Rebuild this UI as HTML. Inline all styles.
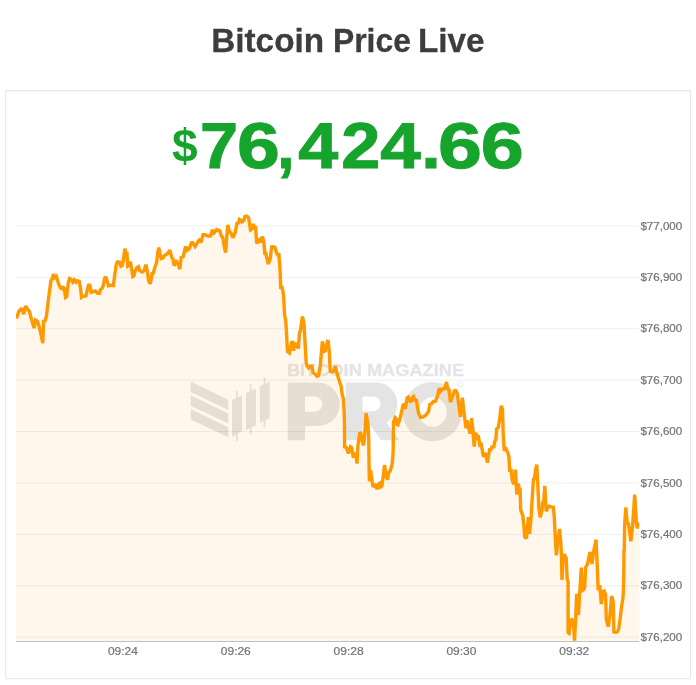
<!DOCTYPE html>
<html><head><meta charset="utf-8">
<style>
html,body{margin:0;padding:0;background:#fff;}
body{width:696px;height:685px;position:relative;overflow:hidden;font-family:"Liberation Sans",sans-serif;}
svg{position:absolute;left:0;top:0;will-change:transform;}
text{font-family:"Liberation Sans",sans-serif;}
</style></head><body>
<svg width="696" height="685" viewBox="0 0 696 685">
<rect x="5.7" y="90.7" width="684.7" height="587.95" fill="#fff" stroke="#e4e7e7" stroke-width="1"/>
<!-- title -->
<g font-size="34.1" font-weight="bold" fill="#3d3d3d" stroke="#3d3d3d" stroke-width="0.3">
<text x="211.2" y="52.1" textLength="112.9" lengthAdjust="spacingAndGlyphs">Bitcoin</text>
<text x="332.9" y="52.1" textLength="78" lengthAdjust="spacingAndGlyphs">Price</text>
<text x="418.0" y="52.1" textLength="66.6" lengthAdjust="spacingAndGlyphs">Live</text>
</g>
<!-- price -->
<text transform="translate(171.97,161.5) scale(0.994,1)" font-size="46.5" font-weight="bold" fill="#16a42c">$</text>
<text transform="translate(199.88,168.4) scale(1.057,1)" font-size="64.8" font-weight="bold" fill="#16a42c" stroke="#16a42c" stroke-width="1.0" text-rendering="geometricPrecision">7</text>
<text transform="translate(236.96,168.4) scale(1.188,1)" font-size="64.8" font-weight="bold" fill="#16a42c" stroke="#16a42c" stroke-width="1.0" text-rendering="geometricPrecision">6</text>
<text transform="translate(277.34,168.4) scale(0.958,1)" font-size="64.8" font-weight="bold" fill="#16a42c" stroke="#16a42c" stroke-width="1.0" text-rendering="geometricPrecision">,</text>
<text transform="translate(298.35,168.4) scale(1.109,1)" font-size="64.8" font-weight="bold" fill="#16a42c" stroke="#16a42c" stroke-width="1.0" text-rendering="geometricPrecision">4</text>
<text transform="translate(341.30,168.4) scale(1.084,1)" font-size="64.8" font-weight="bold" fill="#16a42c" stroke="#16a42c" stroke-width="1.0" text-rendering="geometricPrecision">2</text>
<text transform="translate(380.15,168.4) scale(1.123,1)" font-size="64.8" font-weight="bold" fill="#16a42c" stroke="#16a42c" stroke-width="1.0" text-rendering="geometricPrecision">4</text>
<text transform="translate(421.28,168.4) scale(1.085,1)" font-size="64.8" font-weight="bold" fill="#16a42c" stroke="#16a42c" stroke-width="1.0" text-rendering="geometricPrecision">.</text>
<text transform="translate(438.00,168.4) scale(1.219,1)" font-size="64.8" font-weight="bold" fill="#16a42c" stroke="#16a42c" stroke-width="1.0" text-rendering="geometricPrecision">6</text>
<text transform="translate(480.75,168.4) scale(1.192,1)" font-size="64.8" font-weight="bold" fill="#16a42c" stroke="#16a42c" stroke-width="1.0" text-rendering="geometricPrecision">6</text>
<!-- grid -->
<rect x="16" y="225.44" width="623.3" height="1" fill="#efefef"/>
<rect x="16" y="276.84" width="623.3" height="1" fill="#efefef"/>
<rect x="16" y="328.24" width="623.3" height="1" fill="#efefef"/>
<rect x="16" y="379.64" width="623.3" height="1" fill="#efefef"/>
<rect x="16" y="431.04" width="623.3" height="1" fill="#efefef"/>
<rect x="16" y="482.44" width="623.3" height="1" fill="#efefef"/>
<rect x="16" y="533.84" width="623.3" height="1" fill="#efefef"/>
<rect x="16" y="585.24" width="623.3" height="1" fill="#efefef"/>
<rect x="16" y="636.64" width="623.3" height="1" fill="#efefef"/>
<!-- watermark -->
<g opacity="0.1" fill="#000" stroke="none">
<polygon points="190.7,381.6 228.3,399.7 228.3,410 190.7,391.9"/>
<polygon points="190.7,395.3 228.3,413.4 228.3,423.4 190.7,405.7"/>
<polygon points="190.7,409.1 228.3,427.2 228.3,437.2 190.7,419.5"/>
<polygon points="232.1,400 242.1,395.3 242.1,430.7 232.1,437.2"/>
<rect x="236" y="391" width="1.8" height="50"/>
<polygon points="246,393.1 255.9,388.4 255.9,425.2 246,429.8"/>
<rect x="249.8" y="384.1" width="1.8" height="50.4"/>
<polygon points="259.8,386.2 269.7,381.6 269.7,418.3 259.8,422.9"/>
<rect x="263.6" y="377.2" width="1.8" height="50.4"/>
<text x="286.9" y="376.3" font-size="17.0" font-weight="bold" stroke="#000" stroke-width="0.5" textLength="177.2" lengthAdjust="spacingAndGlyphs">BITCOIN MAGAZINE</text>
<!-- P -->
<path fill-rule="evenodd" d="M287.7,382.6 H318.1 A21.7,21.7 0 0 1 318.1,426 H305 V440.3 H287.7 Z M305,396.4 H314.75 A7.65,7.65 0 0 1 314.75,411.7 H305 Z"/>
<!-- R -->
<path fill-rule="evenodd" d="M345.7,382.6 H376 A21.3,21.3 0 0 1 386.6,422.4 L399.3,440.3 H380.9 L370.3,425.2 H362.5 V440.3 H345.7 Z M362.5,396.4 H373 A7.4,7.4 0 0 1 373,411.2 H362.5 Z"/>
<!-- O -->
<path fill-rule="evenodd" d="M402.6,411.65 A29.7,29.7 0 1 1 462,411.65 A29.7,29.7 0 1 1 402.6,411.65 Z M419,412 A13.8,14.8 0 1 0 446.6,412 A13.8,14.8 0 1 0 419,412 Z"/>
<circle cx="460.5" cy="384.4" r="2.7" fill="none" stroke="#000" stroke-width="0.9"/>
</g>
<!-- area fill -->
<path d="M16,641.5 L16,318.6 L16.6,318.6 L18.8,311.3 L20.9,309.1 L22.4,309.9 L23.6,314.2 L24.6,308.4 L26.1,306.2 L27.8,309.9 L29.4,311.3 L31.2,318.6 L34.1,328.1 L35.5,320.1 L37.7,321.5 L39.9,329.6 L40.7,333.2 L42.8,343.1 L43.6,320.1 L45.0,321.5 L46.5,315.7 L48.2,301.1 L50.9,280.7 L52.3,278.5 L53.4,274.1 L54.5,277.7 L56.4,276.3 L58.2,282.8 L60.4,288.0 L61.8,288.7 L62.6,286.5 L64.3,288.7 L65.5,297.4 L66.6,296.7 L68.4,282.1 L69.6,278.5 L71.0,279.2 L72.8,282.1 L74.2,279.9 L76.0,282.1 L77.4,280.7 L79.3,281.4 L80.5,288.0 L81.5,297.4 L83.0,296.4 L85.9,296.0 L87.4,289.4 L88.8,284.3 L90.0,285.8 L91.2,292.3 L93.2,291.6 L95.4,290.9 L97.3,293.1 L99.3,293.4 L100.5,289.4 L102.3,288.0 L103.4,285.0 L104.6,278.5 L105.8,276.6 L107.2,281.5 L108.5,285.9 L110.9,285.2 L113.4,285.6 L114.6,275.7 L116.4,264.0 L117.5,261.8 L119.4,262.1 L120.9,266.2 L122.2,265.5 L123.4,259.6 L124.9,248.7 L126.3,253.8 L127.0,253.8 L127.7,266.2 L128.9,265.5 L130.4,261.6 L131.8,269.9 L132.8,276.4 L133.9,275.7 L135.0,271.3 L136.8,267.7 L138.5,266.6 L139.7,270.6 L142.0,272.0 L144.2,270.6 L145.8,264.7 L147.4,271.3 L148.6,280.8 L150.1,283.7 L151.1,280.1 L152.1,273.5 L153.3,273.1 L154.7,267.7 L156.6,262.6 L157.8,252.3 L158.8,247.7 L160.1,253.8 L161.3,258.5 L163.1,257.9 L164.5,255.3 L166.4,254.5 L167.9,253.1 L169.8,250.1 L171.8,257.4 L173.0,258.9 L174.2,265.8 L176.2,260.4 L178.1,264.0 L179.8,269.1 L181.2,257.4 L183.2,256.7 L185.6,246.5 L187.3,250.1 L189.3,248.7 L191.9,241.8 L195.1,246.5 L197.3,242.6 L199.1,240.1 L201.1,242.3 L203.0,234.7 L205.2,234.7 L208.4,236.2 L210.8,235.8 L212.2,229.9 L214.0,232.8 L216.6,229.6 L219.8,230.9 L221.6,236.5 L222.7,237.2 L224.2,246.0 L225.6,252.6 L226.8,236.5 L227.9,224.8 L229.3,231.4 L230.8,232.8 L232.9,237.7 L235.1,232.8 L237.0,223.4 L238.4,223.1 L239.5,219.4 L241.0,220.4 L242.0,221.9 L243.9,220.4 L244.9,216.4 L246.8,216.1 L248.6,217.8 L249.7,224.8 L250.5,229.9 L251.6,229.2 L253.3,224.1 L254.6,227.7 L255.7,227.7 L256.6,243.1 L257.8,242.3 L259.2,240.1 L260.7,242.3 L262.4,236.5 L263.9,242.3 L264.8,253.3 L265.8,253.3 L268.3,264.0 L270.2,259.1 L271.6,247.0 L273.1,246.7 L275.0,247.4 L276.5,252.6 L277.5,254.7 L278.9,254.7 L280.0,268.6 L280.7,287.4 L282.1,287.4 L283.6,295.5 L284.6,315.0 L285.8,320.9 L286.8,338.4 L287.5,351.5 L289.4,353.0 L290.4,348.6 L291.9,341.3 L292.9,342.8 L293.6,350.8 L294.8,343.5 L296.3,344.2 L298.3,348.5 L299.5,332.6 L300.4,331.1 L302.4,316.5 L304.0,323.8 L305.0,341.3 L306.2,363.2 L307.2,366.1 L308.7,368.0 L310.1,366.1 L311.9,366.1 L313.1,372.7 L315.3,374.2 L317.0,376.4 L318.5,375.6 L320.1,367.6 L321.1,355.9 L322.4,341.3 L323.7,351.5 L325.2,350.8 L326.6,344.2 L328.0,340.0 L329.4,353.0 L330.2,371.3 L332.0,372.0 L333.5,371.2 L335.4,366.2 L336.9,372.8 L339.0,380.1 L341.2,386.7 L342.2,394.7 L343.4,398.4 L344.1,410.1 L344.5,424.2 L344.6,446.8 L346.4,447.6 L348.4,453.4 L350.4,446.8 L351.5,447.6 L353.4,457.8 L355.1,452.7 L356.3,456.3 L357.0,463.6 L358.0,444.6 L359.9,432.2 L360.9,433.7 L362.1,440.3 L363.3,445.4 L364.3,440.3 L366.1,413.2 L368.0,424.2 L368.7,438.8 L369.1,468.0 L369.4,481.1 L370.6,470.2 L372.3,482.6 L373.1,487.0 L375.3,484.1 L377.0,489.2 L378.6,484.1 L379.6,483.3 L380.8,487.0 L381.8,486.2 L382.8,479.7 L384.5,465.1 L386.2,476.0 L387.7,479.7 L388.4,473.1 L390.1,470.9 L392.0,465.1 L393.1,453.4 L393.5,422.0 L395.0,417.6 L396.0,418.4 L396.9,424.2 L397.9,424.9 L400.1,418.4 L401.5,412.5 L403.0,405.2 L403.9,403.8 L405.3,408.9 L407.1,397.9 L408.1,397.2 L409.3,400.1 L410.9,402.3 L412.5,397.2 L413.5,396.5 L414.7,400.1 L416.4,400.1 L417.6,408.1 L418.8,414.0 L420.5,417.3 L422.9,417.0 L425.8,415.3 L428.5,411.6 L429.9,404.3 L431.4,403.9 L433.4,401.4 L435.3,401.4 L437.5,396.3 L439.2,388.2 L440.7,391.2 L442.6,389.0 L444.8,388.7 L446.5,382.0 L447.7,388.2 L448.9,389.7 L450.5,402.1 L452.8,395.5 L455.1,389.5 L457.2,393.4 L458.7,404.3 L460.4,416.7 L462.4,397.7 L463.8,410.9 L466.0,428.4 L467.0,420.4 L468.2,426.2 L470.1,433.5 L471.6,418.2 L472.8,428.4 L474.2,446.6 L475.2,433.5 L476.2,434.2 L476.6,440.1 L478.2,435.0 L479.9,445.2 L481.3,444.5 L482.8,453.2 L483.5,456.9 L485.0,453.2 L486.0,454.7 L487.4,462.7 L488.6,454.7 L489.6,449.6 L490.8,449.6 L492.3,445.9 L493.7,448.1 L494.7,441.5 L495.9,439.3 L496.6,429.1 L498.1,427.7 L499.6,419.6 L501.2,405.8 L502.5,409.4 L503.2,432.8 L504.3,451.0 L505.7,447.4 L506.9,451.0 L507.8,452.2 L509.0,457.3 L509.7,470.4 L511.2,470.4 L512.2,479.9 L513.9,484.3 L515.5,469.7 L516.8,494.5 L517.7,484.3 L518.6,485.0 L519.2,489.4 L520.1,489.4 L520.7,509.9 L522.8,515.7 L523.9,525.9 L524.7,536.9 L526.5,538.3 L527.2,529.6 L528.4,517.2 L529.6,533.9 L531.2,515.7 L532.3,496.7 L533.4,479.2 L534.5,478.5 L535.5,470.4 L536.8,464.6 L537.9,486.5 L538.9,508.4 L540.2,517.2 L541.8,511.3 L542.8,502.6 L543.7,502.6 L544.8,485.8 L546.2,511.3 L547.7,507.7 L549.1,506.2 L551.3,506.9 L553.3,507.2 L554.3,517.5 L555.4,539.4 L556.4,555.4 L557.6,542.0 L559.6,529.0 L560.9,543.8 L561.4,555.2 L562.0,580.0 L563.2,555.2 L564.7,555.2 L566.2,558.1 L567.2,579.3 L568.1,581.5 L568.1,632.6 L569.1,633.3 L571.2,618.7 L573.5,622.4 L574.5,640.6 L575.7,618.0 L576.6,593.9 L578.5,615.1 L579.7,593.2 L581.3,567.6 L582.4,590.3 L583.7,589.5 L584.7,587.3 L585.6,567.6 L587.3,564.7 L590.0,552.0 L591.9,564.0 L593.5,552.3 L596.1,539.7 L597.3,566.9 L598.2,590.3 L599.8,585.1 L601.3,604.1 L602.7,591.7 L604.1,591.0 L605.6,594.6 L606.3,619.5 L608.3,626.8 L610.0,615.1 L611.6,596.1 L613.3,601.9 L613.9,631.9 L615.8,632.3 L617.3,631.9 L618.7,628.9 L620.2,618.0 L621.6,606.3 L623.1,596.8 L623.8,574.2 L624.0,550.6 L624.3,550.4 L624.6,525.9 L625.8,507.5 L627.2,523.3 L628.5,523.8 L630.9,541.2 L632.6,525.9 L634.7,494.7 L636.4,522.8 L637.4,528.4 L638.8,522.3 L639.3,522.3 L639.3,641.5 Z" fill="#ff9900" fill-opacity="0.08"/>
<!-- axis line -->
<rect x="16" y="641" width="623.3" height="1" fill="#c4c0bc"/>
<!-- line -->
<clipPath id="pc"><rect x="16" y="200" width="623.3" height="445"/></clipPath>
<filter id="bl" x="-2%" y="-2%" width="104%" height="104%"><feGaussianBlur stdDeviation="0.35"/></filter>
<g clip-path="url(#pc)"><polyline filter="url(#bl)" points="16.6,318.6 18.8,311.3 20.9,309.1 22.4,309.9 23.6,314.2 24.6,308.4 26.1,306.2 27.8,309.9 29.4,311.3 31.2,318.6 34.1,328.1 35.5,320.1 37.7,321.5 39.9,329.6 40.7,333.2 42.8,343.1 43.6,320.1 45.0,321.5 46.5,315.7 48.2,301.1 50.9,280.7 52.3,278.5 53.4,274.1 54.5,277.7 56.4,276.3 58.2,282.8 60.4,288.0 61.8,288.7 62.6,286.5 64.3,288.7 65.5,297.4 66.6,296.7 68.4,282.1 69.6,278.5 71.0,279.2 72.8,282.1 74.2,279.9 76.0,282.1 77.4,280.7 79.3,281.4 80.5,288.0 81.5,297.4 83.0,296.4 85.9,296.0 87.4,289.4 88.8,284.3 90.0,285.8 91.2,292.3 93.2,291.6 95.4,290.9 97.3,293.1 99.3,293.4 100.5,289.4 102.3,288.0 103.4,285.0 104.6,278.5 105.8,276.6 107.2,281.5 108.5,285.9 110.9,285.2 113.4,285.6 114.6,275.7 116.4,264.0 117.5,261.8 119.4,262.1 120.9,266.2 122.2,265.5 123.4,259.6 124.9,248.7 126.3,253.8 127.0,253.8 127.7,266.2 128.9,265.5 130.4,261.6 131.8,269.9 132.8,276.4 133.9,275.7 135.0,271.3 136.8,267.7 138.5,266.6 139.7,270.6 142.0,272.0 144.2,270.6 145.8,264.7 147.4,271.3 148.6,280.8 150.1,283.7 151.1,280.1 152.1,273.5 153.3,273.1 154.7,267.7 156.6,262.6 157.8,252.3 158.8,247.7 160.1,253.8 161.3,258.5 163.1,257.9 164.5,255.3 166.4,254.5 167.9,253.1 169.8,250.1 171.8,257.4 173.0,258.9 174.2,265.8 176.2,260.4 178.1,264.0 179.8,269.1 181.2,257.4 183.2,256.7 185.6,246.5 187.3,250.1 189.3,248.7 191.9,241.8 195.1,246.5 197.3,242.6 199.1,240.1 201.1,242.3 203.0,234.7 205.2,234.7 208.4,236.2 210.8,235.8 212.2,229.9 214.0,232.8 216.6,229.6 219.8,230.9 221.6,236.5 222.7,237.2 224.2,246.0 225.6,252.6 226.8,236.5 227.9,224.8 229.3,231.4 230.8,232.8 232.9,237.7 235.1,232.8 237.0,223.4 238.4,223.1 239.5,219.4 241.0,220.4 242.0,221.9 243.9,220.4 244.9,216.4 246.8,216.1 248.6,217.8 249.7,224.8 250.5,229.9 251.6,229.2 253.3,224.1 254.6,227.7 255.7,227.7 256.6,243.1 257.8,242.3 259.2,240.1 260.7,242.3 262.4,236.5 263.9,242.3 264.8,253.3 265.8,253.3 268.3,264.0 270.2,259.1 271.6,247.0 273.1,246.7 275.0,247.4 276.5,252.6 277.5,254.7 278.9,254.7 280.0,268.6 280.7,287.4 282.1,287.4 283.6,295.5 284.6,315.0 285.8,320.9 286.8,338.4 287.5,351.5 289.4,353.0 290.4,348.6 291.9,341.3 292.9,342.8 293.6,350.8 294.8,343.5 296.3,344.2 298.3,348.5 299.5,332.6 300.4,331.1 302.4,316.5 304.0,323.8 305.0,341.3 306.2,363.2 307.2,366.1 308.7,368.0 310.1,366.1 311.9,366.1 313.1,372.7 315.3,374.2 317.0,376.4 318.5,375.6 320.1,367.6 321.1,355.9 322.4,341.3 323.7,351.5 325.2,350.8 326.6,344.2 328.0,340.0 329.4,353.0 330.2,371.3 332.0,372.0 333.5,371.2 335.4,366.2 336.9,372.8 339.0,380.1 341.2,386.7 342.2,394.7 343.4,398.4 344.1,410.1 344.5,424.2 344.6,446.8 346.4,447.6 348.4,453.4 350.4,446.8 351.5,447.6 353.4,457.8 355.1,452.7 356.3,456.3 357.0,463.6 358.0,444.6 359.9,432.2 360.9,433.7 362.1,440.3 363.3,445.4 364.3,440.3 366.1,413.2 368.0,424.2 368.7,438.8 369.1,468.0 369.4,481.1 370.6,470.2 372.3,482.6 373.1,487.0 375.3,484.1 377.0,489.2 378.6,484.1 379.6,483.3 380.8,487.0 381.8,486.2 382.8,479.7 384.5,465.1 386.2,476.0 387.7,479.7 388.4,473.1 390.1,470.9 392.0,465.1 393.1,453.4 393.5,422.0 395.0,417.6 396.0,418.4 396.9,424.2 397.9,424.9 400.1,418.4 401.5,412.5 403.0,405.2 403.9,403.8 405.3,408.9 407.1,397.9 408.1,397.2 409.3,400.1 410.9,402.3 412.5,397.2 413.5,396.5 414.7,400.1 416.4,400.1 417.6,408.1 418.8,414.0 420.5,417.3 422.9,417.0 425.8,415.3 428.5,411.6 429.9,404.3 431.4,403.9 433.4,401.4 435.3,401.4 437.5,396.3 439.2,388.2 440.7,391.2 442.6,389.0 444.8,388.7 446.5,382.0 447.7,388.2 448.9,389.7 450.5,402.1 452.8,395.5 455.1,389.5 457.2,393.4 458.7,404.3 460.4,416.7 462.4,397.7 463.8,410.9 466.0,428.4 467.0,420.4 468.2,426.2 470.1,433.5 471.6,418.2 472.8,428.4 474.2,446.6 475.2,433.5 476.2,434.2 476.6,440.1 478.2,435.0 479.9,445.2 481.3,444.5 482.8,453.2 483.5,456.9 485.0,453.2 486.0,454.7 487.4,462.7 488.6,454.7 489.6,449.6 490.8,449.6 492.3,445.9 493.7,448.1 494.7,441.5 495.9,439.3 496.6,429.1 498.1,427.7 499.6,419.6 501.2,405.8 502.5,409.4 503.2,432.8 504.3,451.0 505.7,447.4 506.9,451.0 507.8,452.2 509.0,457.3 509.7,470.4 511.2,470.4 512.2,479.9 513.9,484.3 515.5,469.7 516.8,494.5 517.7,484.3 518.6,485.0 519.2,489.4 520.1,489.4 520.7,509.9 522.8,515.7 523.9,525.9 524.7,536.9 526.5,538.3 527.2,529.6 528.4,517.2 529.6,533.9 531.2,515.7 532.3,496.7 533.4,479.2 534.5,478.5 535.5,470.4 536.8,464.6 537.9,486.5 538.9,508.4 540.2,517.2 541.8,511.3 542.8,502.6 543.7,502.6 544.8,485.8 546.2,511.3 547.7,507.7 549.1,506.2 551.3,506.9 553.3,507.2 554.3,517.5 555.4,539.4 556.4,555.4 557.6,542.0 559.6,529.0 560.9,543.8 561.4,555.2 562.0,580.0 563.2,555.2 564.7,555.2 566.2,558.1 567.2,579.3 568.1,581.5 568.1,632.6 569.1,633.3 571.2,618.7 573.5,622.4 574.5,640.6 575.7,618.0 576.6,593.9 578.5,615.1 579.7,593.2 581.3,567.6 582.4,590.3 583.7,589.5 584.7,587.3 585.6,567.6 587.3,564.7 590.0,552.0 591.9,564.0 593.5,552.3 596.1,539.7 597.3,566.9 598.2,590.3 599.8,585.1 601.3,604.1 602.7,591.7 604.1,591.0 605.6,594.6 606.3,619.5 608.3,626.8 610.0,615.1 611.6,596.1 613.3,601.9 613.9,631.9 615.8,632.3 617.3,631.9 618.7,628.9 620.2,618.0 621.6,606.3 623.1,596.8 623.8,574.2 624.0,550.6 624.3,550.4 624.6,525.9 625.8,507.5 627.2,523.3 628.5,523.8 630.9,541.2 632.6,525.9 634.7,494.7 636.4,522.8 637.4,528.4 638.8,522.3" fill="none" stroke="#ff9900" stroke-width="3.4" stroke-linejoin="miter" stroke-miterlimit="2" stroke-linecap="butt"/></g>
<!-- labels -->
<g font-size="10.2" fill="#747474" stroke="#747474" stroke-width="0.2">
<text x="640.4" y="229.5" textLength="41.8" lengthAdjust="spacingAndGlyphs">$77,000</text>
<text x="640.4" y="280.9" textLength="41.8" lengthAdjust="spacingAndGlyphs">$76,900</text>
<text x="640.4" y="332.3" textLength="41.8" lengthAdjust="spacingAndGlyphs">$76,800</text>
<text x="640.4" y="383.7" textLength="41.8" lengthAdjust="spacingAndGlyphs">$76,700</text>
<text x="640.4" y="435.1" textLength="41.8" lengthAdjust="spacingAndGlyphs">$76,600</text>
<text x="640.4" y="486.5" textLength="41.8" lengthAdjust="spacingAndGlyphs">$76,500</text>
<text x="640.4" y="537.9" textLength="41.8" lengthAdjust="spacingAndGlyphs">$76,400</text>
<text x="640.4" y="589.3" textLength="41.8" lengthAdjust="spacingAndGlyphs">$76,300</text>
<text x="640.4" y="640.7" textLength="41.8" lengthAdjust="spacingAndGlyphs">$76,200</text>
<text x="107.9" y="654.8" textLength="30" lengthAdjust="spacingAndGlyphs">09:24</text>
<text x="220.8" y="654.8" textLength="30" lengthAdjust="spacingAndGlyphs">09:26</text>
<text x="333.6" y="654.8" textLength="30" lengthAdjust="spacingAndGlyphs">09:28</text>
<text x="446.4" y="654.8" textLength="30" lengthAdjust="spacingAndGlyphs">09:30</text>
<text x="559.3" y="654.8" textLength="30" lengthAdjust="spacingAndGlyphs">09:32</text>
</g>
</svg>
</body></html>
